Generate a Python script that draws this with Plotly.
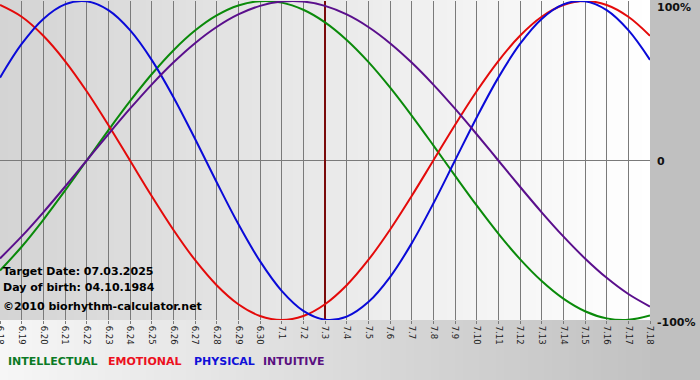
import plotly.graph_objects as go

# ---------------- data ----------------
days = ["6.18", "6.19", "6.20", "6.21", "6.22", "6.23", "6.24", "6.25", "6.26", "6.27",
        "6.28", "6.29", "6.30", "7.1", "7.2", "7.3", "7.4", "7.5", "7.6", "7.7",
        "7.8", "7.9", "7.10", "7.11", "7.12", "7.13", "7.14", "7.15", "7.16", "7.17", "7.18"]

intellectual = [-0.6901, -0.5406, -0.3717, -0.1893, 0.0, 0.1893, 0.3717, 0.5406, 0.6901, 0.8146,
                0.9096, 0.9718, 0.9989, 0.9898, 0.9450, 0.8660, 0.7557, 0.6182, 0.4582, 0.2817,
                0.0951, -0.0951, -0.2817, -0.4582, -0.6182, -0.7557, -0.8660, -0.9450, -0.9898, -0.9989,
                -0.9718]
emotional = [0.9749, 0.9010, 0.7818, 0.6235, 0.4339, 0.2225, 0.0, -0.2225, -0.4339, -0.6235,
             -0.7818, -0.9010, -0.9749, -1.0, -0.9749, -0.9010, -0.7818, -0.6235, -0.4339, -0.2225,
             0.0, 0.2225, 0.4339, 0.6235, 0.7818, 0.9010, 0.9749, 1.0, 0.9749, 0.9010,
             0.7818]
physical = [0.5196, 0.7308, 0.8879, 0.9791, 0.9977, 0.9423, 0.8170, 0.6311, 0.3984, 0.1362,
            -0.1362, -0.3984, -0.6311, -0.8170, -0.9423, -0.9977, -0.9791, -0.8879, -0.7308, -0.5196,
            -0.2698, 0.0, 0.2698, 0.5196, 0.7308, 0.8879, 0.9791, 0.9977, 0.9423, 0.8170,
            0.6311]
intuitive = [-0.6142, -0.4759, -0.3247, -0.1646, 0.0, 0.1646, 0.3247, 0.4759, 0.6142, 0.7357,
             0.8372, 0.9158, 0.9694, 0.9966, 0.9966, 0.9694, 0.9158, 0.8372, 0.7357, 0.6142,
             0.4759, 0.3247, 0.1646, 0.0, -0.1646, -0.3247, -0.4759, -0.6142, -0.7357, -0.8372,
             -0.9158]

target_day = "7.3"
y_tick_values = [1.0, 0.0, -1.0]
y_tick_labels = ["100%", "0", "-100%"]
info_lines = ["Target Date: 07.03.2025", "Day of birth: 04.10.1984", "©2010 biorhythm-calculator.net"]
series_names = ["INTELLECTUAL", "EMOTIONAL", "PHYSICAL", "INTUITIVE"]

# ---------------- styles ----------------
line_colors = ["#0a8a0a", "#e40a0a", "#0a0ad8", "#5a0f8c"]
label_colors = ["#0b7a26", "#ec1020", "#1010d8", "#5a1080"]
FONT = "DejaVu Sans"

fig = go.Figure()

# target day marker line
fig.add_trace(go.Scatter(x=[target_day, target_day], y=[-1.02, 1.02], mode="lines",
                         line=dict(color="#7a0a0a", width=2), hoverinfo="skip", showlegend=False))

for name, vals, col in zip(series_names, [intellectual, emotional, physical, intuitive], line_colors):
    fig.add_trace(go.Scatter(x=days, y=vals, mode="lines", name=name,
                             line=dict(color=col, width=2, shape="spline", smoothing=1.0),
                             showlegend=False))

# ---------------- background gradients ----------------
shapes = []
N = 80
pb = 60 / 319.0
for i in range(N):
    f = i / (N - 1)
    # plot area: grey (left) -> white (right)
    c = int(round(212 + (255 - 212) * f))
    shapes.append(dict(type="rect", xref="paper", yref="paper",
                       x0=i / N, x1=(i + 1.5) / N if i < N - 1 else 1.0,
                       y0=0, y1=1 + 1 / 319.0,
                       fillcolor=f"rgb({c},{c},{c})", line=dict(width=0), layer="below"))
    # bottom margin: light (left) -> grey (right)
    c2 = int(round(246 + (194 - 246) * f))
    shapes.append(dict(type="rect", xref="paper", yref="paper",
                       x0=i / N, x1=(i + 1.5) / N if i < N - 1 else 1.0,
                       y0=-pb - 0.01, y1=0,
                       fillcolor=f"rgb({c2},{c2},{c2})", line=dict(width=0), layer="below"))

annotations = []
# info text
info_y = [(320 - 271.7) / 319, (320 - 287.3) / 319, (320 - 306.7) / 319]
for txt, yy in zip(info_lines, info_y):
    annotations.append(dict(text=f"<b>{txt}</b>", xref="paper", yref="paper", x=0.0, y=yy,
                            xanchor="left", yanchor="middle", showarrow=False, xshift=1,
                            font=dict(family=FONT, size=11, color="#000000")))
# bottom coloured legend words
leg_x = [7, 107, 193, 262]
for txt, px, col in zip(series_names, leg_x, label_colors):
    annotations.append(dict(text=f"<b>{txt}</b>", xref="paper", yref="paper", x=px / 650.0,
                            y=(320 - 361.7) / 319, xanchor="left", yanchor="middle",
                            showarrow=False, borderpad=0,
                            font=dict(family=FONT, size=11, color=col)))
# right y labels
y_shifts = [-6, -1, -2]
for v, lab, ys in zip(y_tick_values, y_tick_labels, y_shifts):
    annotations.append(dict(text=f"<b>{lab}</b>", xref="paper", yref="y", x=1.0, y=v,
                            xanchor="left", yanchor="middle", showarrow=False,
                            xshift=6, yshift=ys, borderpad=0,
                            font=dict(family=FONT, size=11, color="#111111")))

fig.update_layout(
    template="none",
    width=700, height=380,
    margin=dict(l=0, r=50, t=1, b=60, autoexpand=False),
    paper_bgcolor="#c0c0c0",
    plot_bgcolor="rgba(0,0,0,0)",
    shapes=shapes,
    annotations=annotations,
    showlegend=False,
    hovermode=False,
    xaxis=dict(type="category", categoryorder="array", categoryarray=days, automargin=False,
               range=[0, len(days) - 1], tickmode="array", tickvals=days, ticktext=days,
               tickangle=90, tickfont=dict(family=FONT, size=8.5, color="#222222"),
               showgrid=True, gridcolor="#7a7a7a", gridwidth=1,
               ticks="outside", ticklen=3, tickcolor="#7a7a7a",
               showline=False, zeroline=False, fixedrange=True),
    yaxis=dict(range=[-1.0, 1.0], showgrid=False, showticklabels=False, ticks="", automargin=False,
               zeroline=True, zerolinecolor="#7a7a7a", zerolinewidth=1,
               showline=False, fixedrange=True),
)

fig.write_html("out.html", config={"displayModeBar": False, "staticPlot": True},
               post_script="document.body.style.margin='0';document.body.style.overflow='hidden';")
